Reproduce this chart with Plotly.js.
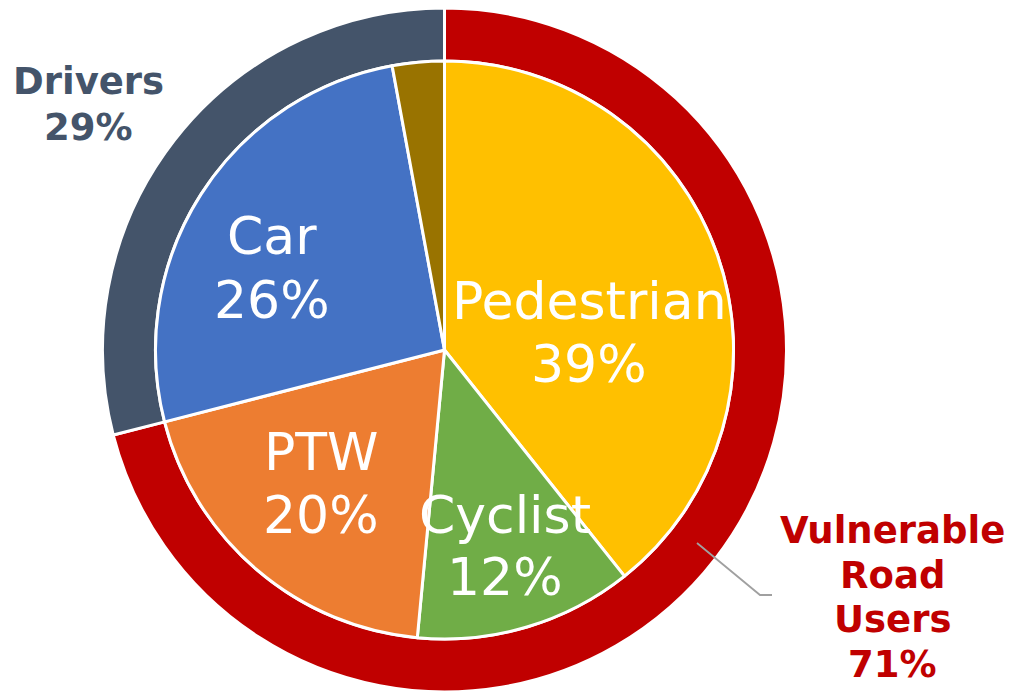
<!DOCTYPE html>
<html>
<head>
<meta charset="utf-8">
<script src="https://cdn.plot.ly/plotly-3.0.1.min.js"></script>
<style>html,body{margin:0;padding:0;background:#fff;}#chart{width:1012px;height:694px;}</style>
</head>
<body>
<div id="chart"></div>
<script>
// Inner pie: road user type (share of fatalities, %)
const innerLabels = ["Pedestrian", "Cyclist", "PTW", "Car", "Other"];
const innerValues = [39.3, 12.2, 19.5, 26.1, 2.9];
const innerColors = ["#FFC000", "#70AD47", "#ED7D31", "#4472C4", "#997300"];
const innerShowLabel = [true, true, true, true, false];

// Outer ring: groups
const outerLabels = ["Vulnerable Road Users", "Drivers"];
const outerLines = [["Vulnerable", "Road", "Users"], ["Drivers"]];
const outerValues = [71, 29];
const outerColors = ["#C00000", "#44546A"];

const W = 1012, H = 694;
const cx = 444.5, cyTop = 350;
const rOuter = 342, rInner = 289;
const cyB = H - cyTop;

function px(x) { return x / W; }
function py(y) { return 1 - y / H; }

const traces = [
  {
    type: "pie",
    labels: outerLabels,
    values: outerValues,
    sort: false,
    direction: "clockwise",
    rotation: 0,
    hole: rInner / rOuter,
    marker: { colors: outerColors, line: { color: "#ffffff", width: 3 } },
    textinfo: "none",
    hoverinfo: "none",
    showlegend: false,
    domain: { x: [px(cx - rOuter), px(cx + rOuter)], y: [(cyB - rOuter) / H, (cyB + rOuter) / H] }
  },
  {
    type: "pie",
    labels: innerLabels,
    values: innerValues,
    sort: false,
    direction: "clockwise",
    rotation: 0,
    marker: { colors: innerColors, line: { color: "#ffffff", width: 3 } },
    textinfo: "none",
    hoverinfo: "none",
    showlegend: false,
    domain: { x: [px(cx - rInner), px(cx + rInner)], y: [(cyB - rInner) / H, (cyB + rInner) / H] }
  }
];

// label line positions (pixel centres) for each inner slice: [x, y of first line, y of second line]
const innerLabelPos = [[589, 301, 364], [505, 515, 577], [321, 452, 515], [272, 236, 300], null];
const outerLabelPos = [[892, [530, 575, 619, 664]], [88, [82, 127]]];

const annotations = [];
innerLabels.forEach((lab, i) => {
  if (!innerShowLabel[i]) return;
  const p = innerLabelPos[i];
  const fnt = { family: "DejaVu Sans, Verdana, sans-serif", size: 52, color: "#ffffff" };
  annotations.push({ text: lab, x: px(p[0]), y: py(p[1]), xref: "paper", yref: "paper", xanchor: "center", yanchor: "middle", showarrow: false, font: fnt });
  annotations.push({ text: Math.round(innerValues[i]) + "%", x: px(p[0]), y: py(p[2]), xref: "paper", yref: "paper", xanchor: "center", yanchor: "middle", showarrow: false, font: fnt });
});
outerLabels.forEach((lab, i) => {
  const p = outerLabelPos[i];
  const lines = outerLines[i].concat([outerValues[i] + "%"]);
  const fnt = { family: "DejaVu Sans, Verdana, sans-serif", size: 37, color: outerColors[i] };
  lines.forEach((t, k) => {
    annotations.push({ text: "<b>" + t + "</b>", x: px(p[0]), y: py(p[1][k]), xref: "paper", yref: "paper", xanchor: "center", yanchor: "middle", showarrow: false, font: fnt });
  });
});

const leader = [[697, 543], [760, 595], [772, 595]];
const path = leader.map((pt, i) => (i ? "L" : "M") + px(pt[0]) + "," + py(pt[1])).join(" ");

const layout = {
  width: W, height: H,
  margin: { l: 0, r: 0, t: 0, b: 0, pad: 0 },
  paper_bgcolor: "#ffffff",
  showlegend: false,
  annotations: annotations,
  shapes: [{ type: "path", xref: "paper", yref: "paper", path: path, line: { color: "#A0A0A0", width: 1.8 } }]
};

Plotly.newPlot("chart", traces, layout, { displayModeBar: false, staticPlot: true });
</script>
</body>
</html>
